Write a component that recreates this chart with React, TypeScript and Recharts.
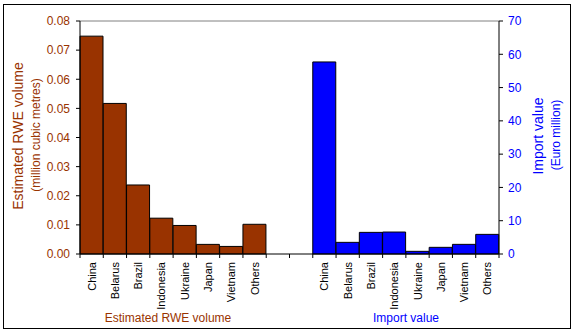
import { ComposedChart, Bar, XAxis, YAxis, ReferenceLine } from 'recharts';

const COUNTRIES = ['China', 'Belarus', 'Brazil', 'Indonesia', 'Ukraine', 'Japan', 'Vietnam', 'Others'];
const RWE_VOLUME = [0.0748, 0.0517, 0.0237, 0.0123, 0.0098, 0.0033, 0.0026, 0.0102];
const IMPORT_VALUE = [57.7, 3.5, 6.5, 6.6, 0.8, 2.0, 2.9, 5.9];
const GAP_SLOTS = 2;

const LEFT_TICKS = [0, 0.01, 0.02, 0.03, 0.04, 0.05, 0.06, 0.07, 0.08];
const RIGHT_TICKS = [0, 10, 20, 30, 40, 50, 60, 70];

const BROWN = '#993300';
const BLUE = '#0000ff';
const FONT = 'Arial, "Liberation Sans", sans-serif';

interface Row {
  name: string;
  rwe: number | null;
  imp: number | null;
}

const data: Row[] = [
  ...COUNTRIES.map((name, i) => ({ name, rwe: RWE_VOLUME[i], imp: null })),
  ...Array.from({ length: GAP_SLOTS }, () => ({ name: '', rwe: null, imp: null })),
  ...COUNTRIES.map((name, i) => ({ name, rwe: null, imp: IMPORT_VALUE[i] })),
];

const CategoryTick = (props: any) => {
  const { x, y, payload, index, width } = props;
  const bw = (width || 419) / data.length;
  const left = x - bw / 2;
  const isLast = index === data.length - 1;
  return (
    <g>
      <line x1={left} y1={y} x2={left} y2={y + 4} stroke="#000" />
      {isLast && <line x1={x + bw / 2} y1={y} x2={x + bw / 2} y2={y + 4} stroke="#000" />}
      {payload.value && (
        <text
          x={x}
          y={y + 8}
          transform={`rotate(-90, ${x}, ${y + 8})`}
          textAnchor="end"
          dominantBaseline="central"
          fontSize={11}
          fontFamily={FONT}
          fill="#000"
        >
          {payload.value}
        </text>
      )}
    </g>
  );
};

const App = () => {
  return (
    <div style={{ position: 'absolute', left: 0, top: 0, width: 577, height: 332, background: '#fff' }}>
      <ComposedChart
        width={577}
        height={332}
        data={data}
        margin={{ top: 21, right: 0, left: 0, bottom: 0 }}
        barCategoryGap={0}
        barGap={0}
      >
        <XAxis
          xAxisId="a"
          dataKey="name"
          height={78}
          tickSize={0}
          tickMargin={0}
          tick={<CategoryTick />}
          interval={0}
          axisLine={{ stroke: '#000' }}
          tickLine={false}
        />
        <XAxis xAxisId="b" dataKey="name" hide />
        <YAxis
          yAxisId="left"
          orientation="left"
          width={80}
          domain={[0, 0.08]}
          ticks={LEFT_TICKS}
          tickFormatter={(v: number) => v.toFixed(2)}
          tick={{ fill: BROWN, fontSize: 12, fontFamily: FONT }}
          tickSize={4}
          tickMargin={6}
          axisLine={{ stroke: '#000' }}
          tickLine={{ stroke: '#000' }}
        />
        <YAxis
          yAxisId="right"
          orientation="right"
          width={78}
          domain={[0, 70]}
          ticks={RIGHT_TICKS}
          tick={{ fill: BLUE, fontSize: 12, fontFamily: FONT }}
          tickSize={4}
          tickMargin={5}
          axisLine={{ stroke: '#000' }}
          tickLine={{ stroke: '#000' }}
        />
        <ReferenceLine yAxisId="left" xAxisId="a" y={0.08} stroke="#808080" />
        <Bar
          xAxisId="a"
          yAxisId="left"
          dataKey="rwe"
          fill={BROWN}
          stroke="#000"
          strokeWidth={1}
          isAnimationActive={false}
        />
        <Bar
          xAxisId="b"
          yAxisId="right"
          dataKey="imp"
          fill={BLUE}
          stroke="#000"
          strokeWidth={1}
          isAnimationActive={false}
        />
      </ComposedChart>
      <svg
        width={577}
        height={332}
        style={{ position: 'absolute', left: 0, top: 0, pointerEvents: 'none' }}
        fontFamily={FONT}
      >
        <rect x={3.5} y={4.5} width={567} height={324} fill="none" stroke="#000" />
        <text x={18} y={136} transform="rotate(-90, 18, 136)" textAnchor="middle" dominantBaseline="central" fontSize={14} fill={BROWN}>
          Estimated RWE volume
        </text>
        <text x={36} y={135} transform="rotate(-90, 36, 135)" textAnchor="middle" dominantBaseline="central" fontSize={12} fill={BROWN}>
          (million cubic metres)
        </text>
        <text x={538} y={136} transform="rotate(-90, 538, 136)" textAnchor="middle" dominantBaseline="central" fontSize={14} fill={BLUE}>
          Import value
        </text>
        <text x={556} y={135} transform="rotate(-90, 556, 135)" textAnchor="middle" dominantBaseline="central" fontSize={12} fill={BLUE}>
          (Euro million)
        </text>
        <text x={168} y={318} textAnchor="middle" dominantBaseline="central" fontSize={12} fill={BROWN}>
          Estimated RWE volume
        </text>
        <text x={406} y={318} textAnchor="middle" dominantBaseline="central" fontSize={12} fill={BLUE}>
          Import value
        </text>
      </svg>
    </div>
  );
};

export default App;
